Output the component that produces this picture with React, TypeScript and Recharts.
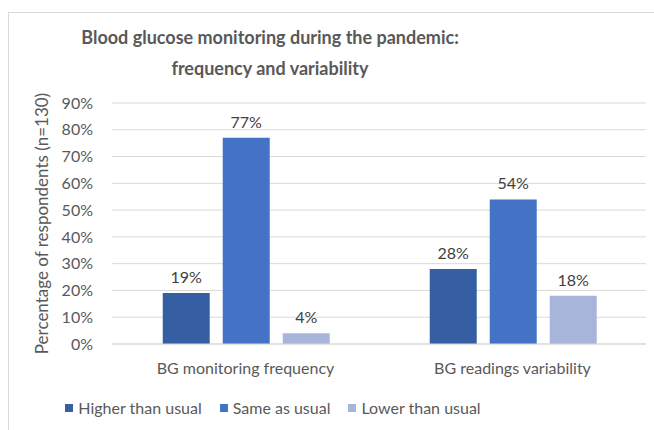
import { BarChart, Bar, XAxis, YAxis, CartesianGrid, Legend, LabelList } from "recharts";

const categories = ["BG monitoring frequency", "BG readings variability"];
const higherThanUsual = [19, 28];
const sameAsUsual = [77, 54];
const lowerThanUsual = [4, 18];
const yTicks = [0, 10, 20, 30, 40, 50, 60, 70, 80, 90];

const series = [
  { key: "Higher than usual", values: higherThanUsual, color: "#355EA3" },
  { key: "Same as usual", values: sameAsUsual, color: "#4472C4" },
  { key: "Lower than usual", values: lowerThanUsual, color: "#A8B5DA" },
];

const data = categories.map((name, i) => {
  const row: { [key: string]: number | string } = { name };
  series.forEach((s) => {
    row[s.key] = s.values[i];
  });
  return row;
});

const font = "Lato, 'Open Sans', sans-serif";
const textColor = "#595959";

// legend drawn in series order (recharts sorts by name otherwise)
function SeriesLegend() {
  return (
    <div style={{ display: "flex", justifyContent: "center", gap: 18, fontSize: 16, color: textColor, fontFamily: font, lineHeight: "20px" }}>
      {series.map((s) => (
        <div key={s.key} style={{ display: "flex", alignItems: "center", gap: 5 }}>
          <span style={{ display: "inline-block", width: 8, height: 8, background: s.color }} />
          <span>{s.key}</span>
        </div>
      ))}
    </div>
  );
}

export default function App() {
  return (
    <div style={{ position: "fixed", left: 0, top: 0, width: 654, height: 430, background: "#fff", fontFamily: font }}>
      <div
        style={{
          position: "absolute",
          left: 8,
          top: 12,
          width: 646,
          height: 418,
          borderTop: "1px solid #D9D9D9",
          borderLeft: "1px solid #D9D9D9",
        }}
      />
      <div
        style={{
          position: "absolute",
          left: 60,
          width: 420,
          top: 22,
          textAlign: "center",
          color: textColor,
          fontWeight: "bold",
          fontSize: 18,
          lineHeight: "31px",
        }}
      >
        Blood glucose monitoring during the pandemic:
        <br />
        frequency and variability
      </div>
      <BarChart
        width={654}
        height={430}
        data={data}
        margin={{ top: 103, right: 8, bottom: 30, left: 50 }}
        barCategoryGap="19%"
        barGap={13}
        style={{ position: "absolute", left: 0, top: 0 }}
      >
        <CartesianGrid vertical={false} stroke="#D9D9D9" />
        <XAxis
          dataKey="name"
          axisLine={{ stroke: "#D9D9D9" }}
          tickLine={false}
          tick={{ fill: textColor, fontSize: 16, fontFamily: font }}
          tickMargin={13}
          height={36}
        />
        <YAxis
          domain={[0, 90]}
          ticks={yTicks}
          tickFormatter={(v) => `${v}%`}
          axisLine={false}
          tickLine={false}
          tickSize={0}
          tickMargin={19}
          width={62}
          tick={{ fill: textColor, fontSize: 16, fontFamily: font }}
          label={{
            value: "Percentage of respondents (n=130)",
            angle: -90,
            position: "insideLeft",
            offset: -8,
            style: { textAnchor: "middle", fill: textColor, fontSize: 17, fontFamily: font },
          }}
        />
        <Legend
          verticalAlign="bottom"
          content={() => <SeriesLegend />}
          wrapperStyle={{ left: 8, width: 530, top: 398, bottom: "auto" }}
        />
        {series.map((s) => (
          <Bar key={s.key} dataKey={s.key} fill={s.color} isAnimationActive={false}>
            <LabelList
              dataKey={s.key}
              position="top"
              offset={10}
              formatter={(v: any) => `${v}%`}
              style={{ fill: "#404040", fontSize: 16, fontFamily: font }}
            />
          </Bar>
        ))}
      </BarChart>
    </div>
  );
}
